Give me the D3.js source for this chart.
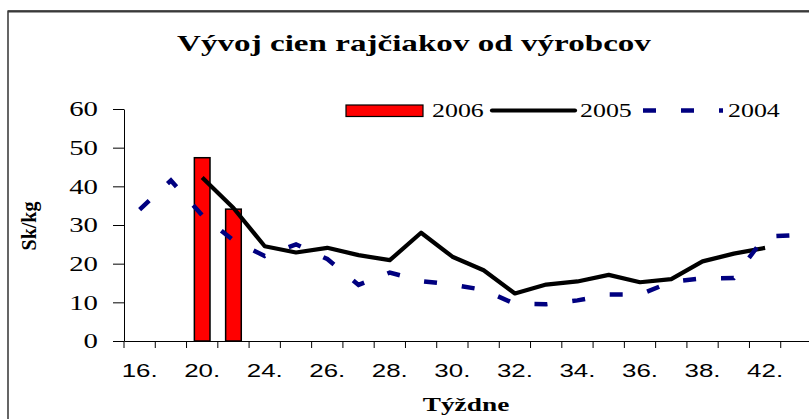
<!DOCTYPE html>
<html>
<head>
<meta charset="utf-8">
<script src="https://cdn.jsdelivr.net/npm/d3@7"></script>
<style>
  body { margin: 0; background: #fff; }
  svg { display: block; }
</style>
</head>
<body>
<div id="chart-area"></div>
<script>
// Weeks on the x axis (only every other one gets a label)
var categories = ["16.", "18.", "20.", "22.", "24.", "25.", "26.", "27.", "28.", "29.", "30.",
                  "31.", "32.", "33.", "34.", "35.", "36.", "37.", "38.", "40.", "42.", "44."];
var yTicks = [0, 10, 20, 30, 40, 50, 60];
var seriesNames = ["2006", "2005", "2004"];

// Sk/kg per week
var values2006 = [null, null, 47.4, 34.1, null, null, null, null, null, null, null,
                  null, null, null, null, null, null, null, null, null, null, null];
var values2005 = [null, null, 42.3, 34.4, 24.5, 22.9, 24.1, 22.2, 20.9, 28.0, 21.8,
                  18.3, 12.3, 14.6, 15.4, 17.1, 15.2, 16.0, 20.6, 22.6, 24.1, null];
var values2004 = [34.0, 41.5, 32.5, 26.0, 22.0, 25.0, 21.2, 14.5, 17.7, 15.5, 14.6,
                  13.2, 9.6, 9.5, 10.5, 12.0, 12.0, 15.3, 16.2, 16.3, 27.0, 27.4];

var width = 809, height = 419;
var margin = { left: 124, right: -3, top: 109, bottom: 78 };
var SX = 1.44; // the original chart is stretched sideways

var svg = d3.select('#chart-area')
  .append('svg')
    .attr('width', width)
    .attr('height', height);

// Chart border (runs off the right and bottom edge)
svg.append('rect')
  .attr('x', 8)
  .attr('y', 11)
  .attr('width', 900)
  .attr('height', 500)
  .attr('fill', 'none')
  .attr('stroke', '#000')
  .attr('stroke-width', 1.2);
svg.append('line')
  .attr('x1', 8).attr('x2', 809)
  .attr('y1', 11.5).attr('y2', 11.5)
  .attr('stroke', '#3a3a3a')
  .attr('stroke-width', 2);

var x = d3.scaleBand()
  .domain(categories)
  .range([margin.left, width - margin.right]);

var y = d3.scaleLinear()
  .domain([0, 60])
  .range([height - margin.bottom, margin.top]);

// Title
svg.append('text')
  .attr('transform', 'translate(414,51) scale(' + SX + ',1)')
  .attr('text-anchor', 'middle')
  .attr('font-family', 'Liberation Serif')
  .attr('font-weight', 'bold')
  .attr('font-size', '23px')
  .text('Vývoj cien rajčiakov od výrobcov');

// Y axis
var yAxisGroup = svg.append('g')
  .attr('transform', 'translate(' + margin.left + ',0)')
  .call(d3.axisLeft(y).tickValues(yTicks).tickSize(11).tickSizeOuter(0));

yAxisGroup.select('.domain').attr('stroke', '#000');
yAxisGroup.selectAll('.tick line').attr('stroke', '#000');
yAxisGroup.selectAll('.tick text')
  .attr('x', -26 / SX)
  .attr('dy', '0.34em')
  .attr('transform', 'scale(' + SX + ',1)')
  .attr('font-family', 'Liberation Serif')
  .attr('font-size', '20px')
  .attr('fill', '#000');

// X axis: labels at category centres, ticks between categories
var xAxisGroup = svg.append('g')
  .attr('transform', 'translate(0,' + y(0) + ')')
  .call(d3.axisBottom(x)
    .tickValues(categories.filter(function(d, i) { return i % 2 === 0; }))
    .tickSize(0)
    .tickSizeOuter(0));

xAxisGroup.select('.domain').attr('stroke', '#000');
xAxisGroup.selectAll('.tick text')
  .attr('x', 0)
  .attr('y', 36)
  .attr('dy', 0)
  .attr('transform', 'scale(' + SX + ',1)')
  .attr('font-family', 'Liberation Sans')
  .attr('font-size', '18px')
  .attr('fill', '#000');

xAxisGroup.selectAll('.boundary')
  .data(categories.concat(['end']))
  .enter().append('line')
    .attr('class', 'boundary')
    .attr('x1', function(d) { return d === 'end' ? x.range()[1] : x(d); })
    .attr('x2', function(d) { return d === 'end' ? x.range()[1] : x(d); })
    .attr('y1', 0)
    .attr('y2', 7)
    .attr('stroke', '#000');

// Axis labels
svg.append('text')
  .attr('transform', 'translate(466,411) scale(' + SX + ',1)')
  .attr('text-anchor', 'middle')
  .attr('font-family', 'Liberation Serif')
  .attr('font-weight', 'bold')
  .attr('font-size', '19px')
  .text('Týždne');

svg.append('text')
  .attr('transform', 'translate(29,226) rotate(-90)')
  .attr('text-anchor', 'middle')
  .attr('dy', '0.35em')
  .attr('font-family', 'Liberation Serif')
  .attr('font-weight', 'bold')
  .attr('font-size', '20px')
  .text('Sk/kg');

// 2006 bars
svg.selectAll('rect.bar')
  .data(categories.map(function(c, i) { return { cat: c, v: values2006[i] }; })
    .filter(function(d) { return d.v != null; }))
  .enter().append('rect')
    .attr('class', 'bar')
    .attr('x', function(d) { return x(d.cat) + x.bandwidth() * 0.25; })
    .attr('width', x.bandwidth() * 0.5)
    .attr('y', function(d) { return y(d.v); })
    .attr('height', function(d) { return y(0) - y(d.v); })
    .attr('fill', '#ff0000')
    .attr('stroke', '#000')
    .attr('stroke-width', 1.5);

var line = d3.line()
  .defined(function(d) { return d.v != null; })
  .x(function(d) { return x(d.cat) + x.bandwidth() / 2; })
  .y(function(d) { return y(d.v); });

function points(vals) {
  return categories.map(function(c, i) { return { cat: c, v: vals[i] }; });
}

// 2005 line
svg.append('path')
  .datum(points(values2005))
  .attr('d', line)
  .attr('fill', 'none')
  .attr('stroke', '#000')
  .attr('stroke-width', 4.2)
  .attr('stroke-linejoin', 'round');

// 2004 line
svg.append('path')
  .datum(points(values2004))
  .attr('d', line)
  .attr('fill', 'none')
  .attr('stroke', '#000080')
  .attr('stroke-width', 4.5)
  .attr('stroke-dasharray', '13,25');

// Legend
var legend = svg.append('g');

legend.append('rect')
  .attr('x', 346).attr('y', 105)
  .attr('width', 77).attr('height', 11.5)
  .attr('fill', '#ff0000')
  .attr('stroke', '#000')
  .attr('stroke-width', 1.2);

legend.append('line')
  .attr('x1', 492).attr('x2', 575)
  .attr('y1', 110.5).attr('y2', 110.5)
  .attr('stroke', '#000')
  .attr('stroke-width', 4.2)
  .attr('stroke-linecap', 'round');

legend.append('line')
  .attr('x1', 643).attr('x2', 723)
  .attr('y1', 110.5).attr('y2', 110.5)
  .attr('stroke', '#000080')
  .attr('stroke-width', 4.5)
  .attr('stroke-dasharray', '13,25');

legend.selectAll('text.legend')
  .data(seriesNames)
  .enter().append('text')
    .attr('class', 'legend')
    .attr('transform', function(d, i) {
      return 'translate(' + [432, 580, 728][i] + ',117) scale(' + SX + ',1)';
    })
    .attr('font-family', 'Liberation Serif')
    .attr('font-size', '18px')
    .text(function(d) { return d; });
</script>
</body>
</html>
